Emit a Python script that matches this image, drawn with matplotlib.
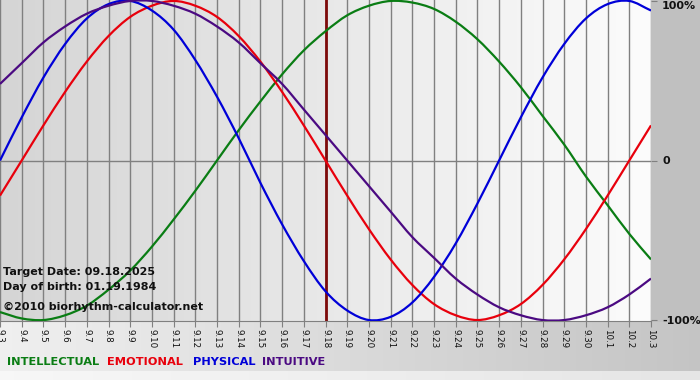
import numpy as np
import matplotlib
matplotlib.use("Agg")
import matplotlib.pyplot as plt
from matplotlib.colors import LinearSegmentedColormap
from matplotlib.path import Path
from matplotlib.patches import PathPatch

# Day labels along the x axis
days = ['9.3', '9.4', '9.5', '9.6', '9.7', '9.8', '9.9', '9.10', '9.11', '9.12',
        '9.13', '9.14', '9.15', '9.16', '9.17', '9.18', '9.19', '9.20', '9.21',
        '9.22', '9.23', '9.24', '9.25', '9.26', '9.27', '9.28', '9.29', '9.30',
        '10.1', '10.2', '10.3']
target_day = '9.18'

# Values in percent for each day
intellectual = [-95, -99, -100, -97, -91, -81, -69, -54, -37, -19, 0, 19, 37, 54,
                69, 81, 91, 97, 100, 99, 95, 87, 76, 62, 46, 28, 10, -10, -28, -46, -62]
emotional = [-22, 0, 22, 43, 62, 78, 90, 97, 100, 97, 90, 78, 62, 43, 22, 0, -22,
             -43, -62, -78, -90, -97, -100, -97, -90, -78, -62, -43, -22, 0, 22]
physical = [0, 27, 52, 73, 89, 98, 100, 94, 82, 63, 40, 14, -14, -40, -63, -82, -94,
            -100, -98, -89, -73, -52, -27, 0, 27, 52, 73, 89, 98, 100, 94]
intuitive = [48, 61, 74, 84, 92, 97, 100, 100, 97, 92, 84, 74, 61, 48, 32, 16, 0,
             -16, -32, -48, -61, -74, -84, -92, -97, -100, -100, -97, -92, -84, -74]

series_names = ['INTELLECTUAL', 'EMOTIONAL', 'PHYSICAL', 'INTUITIVE']
series_colors = ['#0a7d14', '#e8000c', '#0000d8', '#4b0a82']

ytick_vals = [-100, 0, 100]
ytick_labels = ['-100%', '0', '100%']

W, H = 700, 380
fig = plt.figure(figsize=(W / 100, H / 100), dpi=100)

# background of the whole image
bg = fig.add_axes([0, 0, 1, 1])
img = np.full((H, W, 3), 0.755)
grad = np.linspace(0.94, 0.77, W)
img[322:371, :, :] = grad[None, :, None]
img[371:, :, :] = np.linspace(0.97, 0.90, W)[None, :, None]
bg.imshow(img, aspect='auto', extent=(0, 1, 0, 1), interpolation='bilinear')
bg.set_axis_off()

ax = fig.add_axes([0, (H - 321) / H, 651 / W, 321 / H])
x = np.arange(len(days))
ax.set_xlim(0, len(days) - 1)
ax.set_ylim(-100.6, 100.6)

cmap = LinearSegmentedColormap.from_list('bgr', ['#d5d5d5', '#fcfcfc'])
ax.imshow(np.linspace(0, 1, 256).reshape(1, -1), cmap=cmap, aspect='auto',
          extent=(0, 1, 0, 1), transform=ax.transAxes, zorder=0)

ax.set_xticks(x)
ax.set_xticklabels(days, rotation=-90, fontsize=6.3, va='top', ha='center')
ax.grid(axis='x', color='#808080', lw=1, zorder=1)
ax.axhline(0, color='#808080', lw=1, zorder=1)
ax.axvline(days.index(target_day), color='#7d0a0a', lw=2, zorder=2)


# smooth line through the daily points (Catmull-Rom drawn as bezier segments)
def smooth_path(xs, ys):
    p = np.column_stack([xs, ys]).astype(float)
    p = np.vstack([2 * p[0] - p[1], p, 2 * p[-1] - p[-2]])
    verts = [p[1]]
    codes = [Path.MOVETO]
    for i in range(1, len(p) - 2):
        c1 = p[i] + (p[i + 1] - p[i - 1]) / 6
        c2 = p[i + 1] - (p[i + 2] - p[i]) / 6
        verts += [c1, c2, p[i + 1]]
        codes += [Path.CURVE4] * 3
    return Path(verts, codes)


for vals, c in zip([intellectual, emotional, physical, intuitive], series_colors):
    ax.add_patch(PathPatch(smooth_path(x, vals), fill=False, edgecolor=c,
                           lw=1.6, zorder=3))

ax.yaxis.tick_right()
ax.set_yticks(ytick_vals)
ax.set_yticklabels(ytick_labels, fontsize=8, fontweight='bold', color='#111111')
ax.get_yticklabels()[-1].set_verticalalignment('top')
ax.tick_params(axis='y', length=4, color='#808080', pad=4)
ax.tick_params(axis='x', length=4, color='#808080', pad=2, colors='#111111')
ax.tick_params(axis='x', color='#808080')
for s in ['top', 'left', 'right']:
    ax.spines[s].set_visible(False)
ax.spines['bottom'].set_color('#808080')


def px(xp, yp):
    return xp / W, 1 - yp / H


fig.text(*px(3, 272), 'Target Date: 09.18.2025', fontsize=8, fontweight='bold',
         color='#111111', va='center', ha='left')
fig.text(*px(3, 287), 'Day of birth: 01.19.1984', fontsize=8, fontweight='bold',
         color='#111111', va='center', ha='left')
fig.text(*px(3, 307), '\u00a92010 biorhythm-calculator.net', fontsize=8,
         fontweight='bold', color='#111111', va='center', ha='left')

legend_x = [7, 107, 193, 262]
for name, c, lx in zip(series_names, series_colors, legend_x):
    fig.text(*px(lx, 362), name, fontsize=8.2, fontweight='bold', color=c,
             va='center', ha='left')

fig.savefig('out.png', dpi=100)
